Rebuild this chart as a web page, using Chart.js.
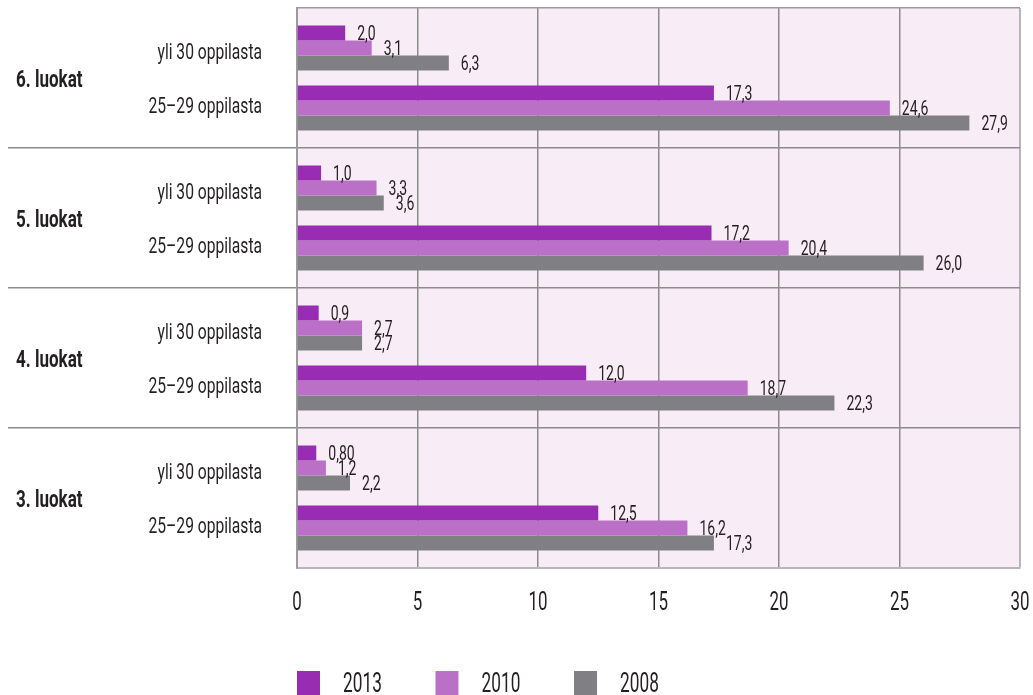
<!DOCTYPE html>
<html>
<head>
<meta charset="utf-8">
<script src="https://cdn.jsdelivr.net/npm/chart.js@4.4.0/dist/chart.umd.min.js"></script>
<style>
  html, body { margin: 0; padding: 0; background: #ffffff; }
  #wrap { width: 1033px; height: 695px; position: relative; }
</style>
</head>
<body>
<div id="wrap"><canvas id="c"></canvas></div>
<script>
// ---- data ----
const groups = ['6. luokat', '5. luokat', '4. luokat', '3. luokat'];
const classSizes = ['yli 30 oppilasta', '25–29 oppilasta'];
const years = ['2013', '2010', '2008'];

const over30_2013 = [2.0, 1.0, 0.9, 0.8];
const over30_2010 = [3.1, 3.3, 2.7, 1.2];
const over30_2008 = [6.3, 3.6, 2.7, 2.2];

const size25to29_2013 = [17.3, 17.2, 12.0, 12.5];
const size25to29_2010 = [24.6, 20.4, 18.7, 16.2];
const size25to29_2008 = [27.9, 26.0, 22.3, 17.3];

const xMin = 0, xMax = 30, xStep = 5;
const twoDecimalValues = [0.8];   // shown as "0,80" in the source

// ---- styles ----
const yearColors = ['#982db4', '#bb70c8', '#808084'];
const FONT = 'Roboto, "DejaVu Sans", sans-serif';
const TEXT = '#231f20';
const GRID = '#8c8c8c';
const EDGE_DARK = '#9c9a9e';
const EDGE_LIGHT = '#b7b5ba';

function fmt(v) {
  const d = twoDecimalValues.includes(v) ? 2 : 1;
  return v.toFixed(d).replace('.', ',');
}

// draws real text, horizontally condensed to mimic the narrow source font
function drawText(ctx, text, x, y, size, sx, align, weight) {
  ctx.save();
  ctx.font = (weight || 'normal') + ' ' + size + 'px ' + FONT;
  ctx.textAlign = 'left';
  ctx.textBaseline = 'alphabetic';
  ctx.fillStyle = TEXT;
  const w = ctx.measureText(text).width * sx;
  const x0 = align === 'right' ? x - w : align === 'center' ? x - w / 2 : x;
  ctx.translate(x0, y);
  ctx.scale(sx, 1);
  ctx.fillText(text, 0, 0);
  ctx.restore();
}

const seriesOver30 = [over30_2013, over30_2010, over30_2008];
const series25to29 = [size25to29_2013, size25to29_2010, size25to29_2008];

const datasets = [];
seriesOver30.forEach((arr, i) => datasets.push({
  label: years[i], data: arr, backgroundColor: yearColors[i]
}));
datasets.push({ label: '', data: groups.map(() => null), backgroundColor: 'rgba(0,0,0,0)', spacer: true });
series25to29.forEach((arr, i) => datasets.push({
  label: years[i], data: arr, backgroundColor: yearColors[i]
}));

const bgPlugin = {
  id: 'plotBg',
  beforeDraw(chart) {
    const a = chart.chartArea, ctx = chart.ctx;
    ctx.save();
    ctx.fillStyle = '#f8ecf6';
    ctx.fillRect(a.left, a.top, a.right - a.left, a.bottom - a.top);
    ctx.restore();
  }
};

const labelPlugin = {
  id: 'labels',
  afterDatasetsDraw(chart) {
    const ctx = chart.ctx;
    const yScale = chart.scales.y;
    const xScale = chart.scales.x;
    const a = chart.chartArea;
    // value labels
    chart.data.datasets.forEach((ds, di) => {
      if (ds.spacer) return;
      const meta = chart.getDatasetMeta(di);
      meta.data.forEach((el, i) => {
        const v = ds.data[i];
        if (v == null) return;
        drawText(ctx, fmt(v), el.x + 12, el.y + el.height / 2 - 1, 19.5, 0.72, 'left');
      });
    });
    // class-size labels and group labels
    const catH = (yScale.bottom - yScale.top) / groups.length;
    groups.forEach((g, i) => {
      const cy = yScale.getPixelForValue(i);
      drawText(ctx, classSizes[0], a.left - 35, cy - catH * 0.196 + 8, 22, 0.71, 'right');
      drawText(ctx, classSizes[1], a.left - 35, cy + catH * 0.196 + 8, 22, 0.71, 'right');
      drawText(ctx, g, 16, cy + 8.5, 23, 0.74, 'left', 'bold');
    });
    // x tick labels
    xScale.ticks.forEach(t => {
      drawText(ctx, String(t.value), xScale.getPixelForValue(t.value), a.bottom + 42, 26, 0.65, 'center');
    });
  }
};

const legendPlugin = {
  id: 'customLegend',
  afterDraw(chart) {
    const ctx = chart.ctx;
    const a = chart.chartArea;
    years.forEach((y, i) => {
      const x = a.left + i * 138.5;
      ctx.save();
      ctx.fillStyle = yearColors[i];
      ctx.fillRect(x, 671, 23, 26);
      ctx.restore();
      drawText(ctx, y, x + 46, 692, 27, 0.64, 'left');
    });
  }
};

new Chart(document.getElementById('c'), {
  type: 'bar',
  data: { labels: groups, datasets },
  plugins: [bgPlugin, labelPlugin, legendPlugin],
  options: {
    indexAxis: 'y',
    responsive: true,
    maintainAspectRatio: false,
    animation: false,
    categoryPercentage: 0.75,
    barPercentage: 1.0,
    layout: { padding: { left: 8, top: 8, right: 13, bottom: 67 } },
    plugins: { legend: { display: false }, tooltip: { enabled: false } },
    scales: {
      x: {
        type: 'linear',
        position: 'bottom',
        min: xMin, max: xMax,
        afterFit(s) { s.height = 60; s.paddingLeft = 0; s.paddingRight = 0; },
        ticks: { stepSize: xStep, display: false },
        grid: {
          drawTicks: false,
          lineWidth: ctx => (ctx.tick && ctx.tick.value === xMax) ? 2 : 1.5,
          color: ctx => {
            if (!ctx.tick) return GRID;
            if (ctx.tick.value === xMin) return EDGE_DARK;
            if (ctx.tick.value === xMax) return EDGE_LIGHT;
            return GRID;
          }
        },
        border: { display: true, color: EDGE_LIGHT, width: 2 }
      },
      y: {
        type: 'category',
        offset: true,
        afterFit(s) { s.width = 289; },
        ticks: { display: false },
        grid: {
          offset: true,
          drawTicks: true,
          tickLength: 289,
          lineWidth: 1.5,
          tickWidth: 1.5,
          color: ctx => (ctx.index === 0 ? EDGE_DARK : (ctx.index === undefined || ctx.index >= groups.length) ? EDGE_LIGHT : GRID),
          tickColor: ctx => (ctx.index === 0 || ctx.index === undefined || ctx.index >= groups.length) ? 'rgba(0,0,0,0)' : GRID
        },
        border: { display: true, color: EDGE_DARK, width: 2 }
      }
    }
  }
});
</script>
</body>
</html>
